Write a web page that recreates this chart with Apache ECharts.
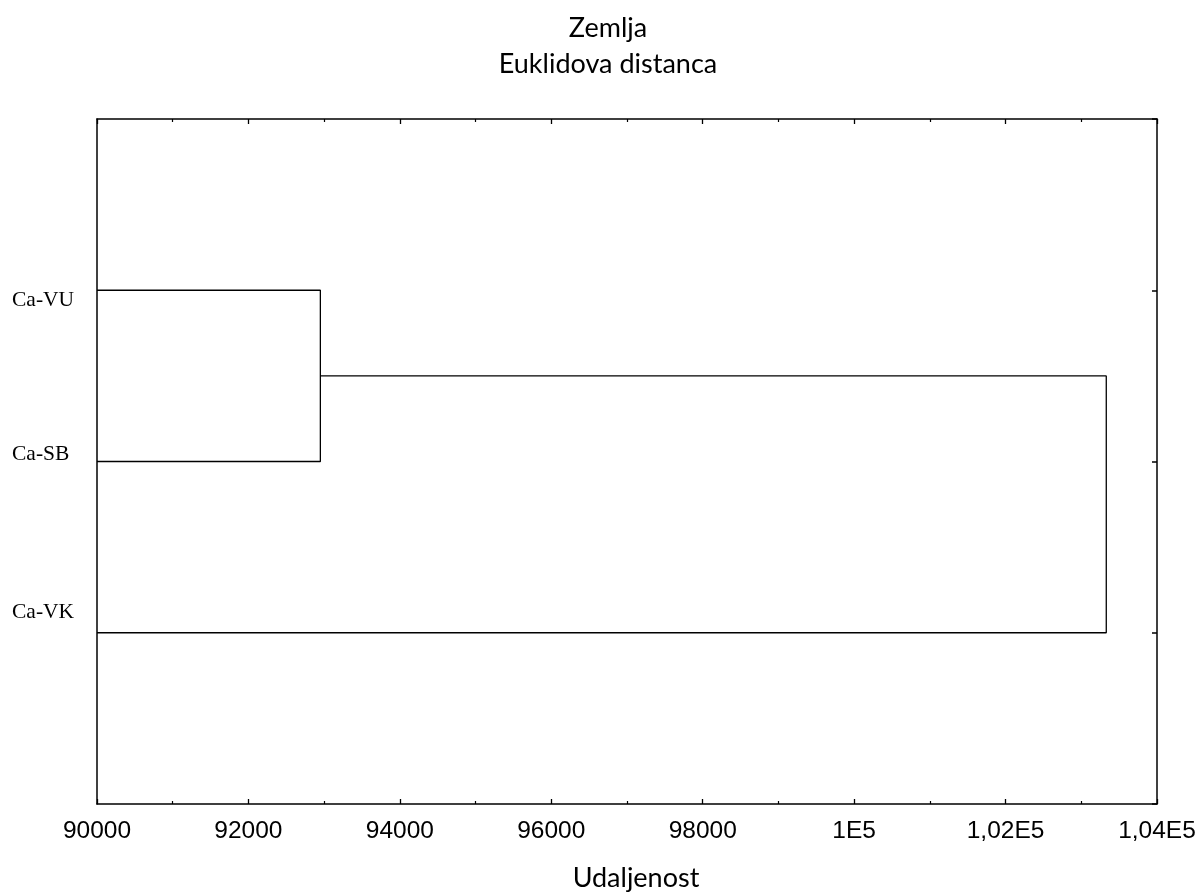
<!DOCTYPE html>
<html>
<head>
<meta charset="utf-8">
<script src="https://cdn.jsdelivr.net/npm/echarts@6/dist/echarts.min.js"></script>
<style>
html,body{margin:0;padding:0;background:#fff;}
#chart{width:1200px;height:895px;}
</style>
</head>
<body>
<div id="chart"></div>
<script>
// ---- data ----
const titleLines = ['Zemlja', 'Euklidova distanca'];
const xAxisTitle = 'Udaljenost';
const leaves = ['Ca-VU', 'Ca-SB', 'Ca-VK'];
// merges: [left member, right member, linkage distance]
const mergeA = ['Ca-VU', 'Ca-SB', 92950];
const mergeB = ['M1', 'Ca-VK', 103330];
const xTickValues = [90000, 92000, 94000, 96000, 98000, 100000, 102000, 104000];
const xTickLabels = ['90000', '92000', '94000', '96000', '98000', '1E5', '1,02E5', '1,04E5'];

// ---- build dendrogram segments ----
const X_MIN = 90000, X_MAX = 104000;
const nodes = {};
leaves.forEach((name, i) => { nodes[name] = { pos: i + 1, h: X_MIN }; });
const merges = [mergeA, mergeB];
const segs = [];
merges.forEach((m, k) => {
  const a = nodes[m[0]], b = nodes[m[1]], h = m[2];
  segs.push([[a.h, a.pos], [h, a.pos], [h, b.pos], [b.h, b.pos]]);
  nodes['M' + (k + 1)] = { pos: (a.pos + b.pos) / 2, h: h };
});

// label vertical shifts (style only)
const labelShift = [20, -14, -40];
const rich = {};
leaves.forEach((n, i) => {
  const s = labelShift[i];
  rich['s' + i] = {
    fontFamily: 'Liberation Serif', fontSize: 21.5, color: '#000',
    padding: s >= 0 ? [s, 0, 0, 0] : [0, 0, -s, 0]
  };
});

const chart = echarts.init(document.getElementById('chart'), null, { renderer: 'canvas' });
const axisLine = { show: true, onZero: false, lineStyle: { color: '#000', width: 1.5 } };

chart.setOption({
  animation: false,
  backgroundColor: '#fff',
  title: {
    text: titleLines.join('\n'),
    left: 603, top: 5, textAlign: 'center',
    textStyle: { fontFamily: 'Lato', fontSize: 27, fontWeight: 'normal', color: '#000', lineHeight: 36 }
  },
  grid: { left: 97, right: 43, top: 119, bottom: 91, containLabel: false, outerBoundsMode: 'none' },
  xAxis: [{
    type: 'value', position: 'bottom', min: X_MIN, max: X_MAX, interval: 2000,
    axisLine: axisLine,
    axisTick: { show: true, inside: true, length: 5, lineStyle: { color: '#000', width: 1.3 } },
    minorTick: { show: true, splitNumber: 2, length: 3, lineStyle: { color: '#000', width: 1.2 } },
    splitLine: { show: false },
    axisLabel: {
      margin: 15, fontFamily: 'Liberation Sans', fontSize: 24.5, color: '#000',
      formatter: v => { const i = xTickValues.indexOf(v); return i >= 0 ? xTickLabels[i] : ''; }
    },
    name: xAxisTitle, nameLocation: 'middle', nameGap: 61,
    nameTextStyle: { fontFamily: 'Lato', fontSize: 27, color: '#000', padding: [0, 0, 0, 18] }
  }, {
    type: 'value', position: 'top', min: X_MIN, max: X_MAX, interval: 2000,
    axisLine: axisLine,
    axisTick: { show: true, inside: true, length: 5, lineStyle: { color: '#000', width: 1.3 } },
    minorTick: { show: true, splitNumber: 2, length: 3, lineStyle: { color: '#000', width: 1.2 } },
    splitLine: { show: false },
    axisLabel: { show: false }
  }],
  yAxis: [{
    type: 'value', position: 'left', min: 0, max: leaves.length + 1, interval: 1, inverse: true,
    axisLine: axisLine,
    axisTick: { show: false },
    splitLine: { show: false },
    axisLabel: {
      align: 'left', margin: 85, verticalAlign: 'middle',
      formatter: v => { const i = v - 1; return (i >= 0 && i < leaves.length) ? '{s' + i + '|' + leaves[i] + '}' : ''; },
      rich: rich
    }
  }, {
    type: 'value', position: 'right', min: 0, max: leaves.length + 1, interval: 1, inverse: true,
    axisLine: axisLine,
    axisTick: { show: true, inside: true, length: 5, lineStyle: { color: '#000', width: 1.5 } },
    splitLine: { show: false },
    axisLabel: { show: false }
  }],
  series: segs.map(seg => ({
    type: 'line', xAxisIndex: 0, yAxisIndex: 0,
    data: seg, symbol: 'none', showSymbol: false,
    lineStyle: { color: '#000', width: 1.3 },
    silent: true
  }))
});
</script>
</body>
</html>
